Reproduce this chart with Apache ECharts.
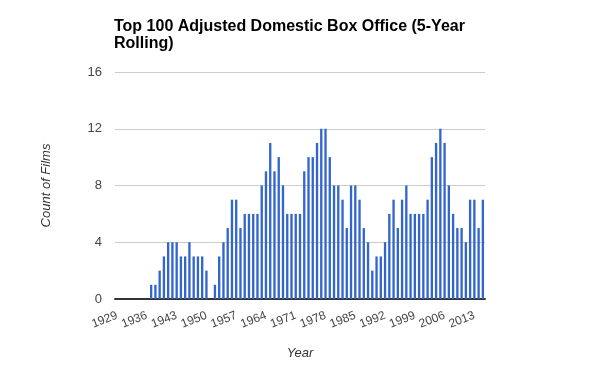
<!DOCTYPE html>
<html><head><meta charset="utf-8">
<script src="https://cdn.jsdelivr.net/npm/echarts@6/dist/echarts.min.js"></script>
<style>html,body{margin:0;padding:0;background:#fff}#c{width:600px;height:371px}</style>
</head><body><div id="c"></div>
<script>
const titleText = 'Top 100 Adjusted Domestic Box Office (5-Year\nRolling)';
const years = [];
for (let y = 1929; y <= 2015; y++) years.push(String(y));
const counts = [
  0,0,0,0,0,0,0,0,
  1,1,2,3,4,4,4,3,3,4,3,3,3,2,0,1,3,4,5,7,7,5,6,6,6,6,
  8,9,11,9,10,8,6,6,6,6,9,10,10,11,12,12,10,8,8,7,5,8,8,7,
  5,4,2,3,3,4,6,7,5,7,8,6,6,6,6,7,10,11,12,11,8,6,5,5,4,7,7,5,7
];
const yTicks = [0, 4, 8, 12, 16];
const chart = echarts.init(document.getElementById('c'));
chart.setOption({
  animation: false,
  title: {
    text: titleText, left: 109, top: 13,
    textStyle: { fontFamily: 'Liberation Sans', fontSize: 16, fontWeight: 'bold', color: '#000', lineHeight: 17 }
  },
  grid: { left: 115, right: 115, top: 72, bottom: 72 },
  xAxis: {
    type: 'category', data: years,
    name: 'Year', nameLocation: 'middle', nameGap: 48,
    nameTextStyle: { fontFamily: 'Liberation Sans', fontStyle: 'italic', fontSize: 13, color: '#333' },
    axisLine: { lineStyle: { color: '#333', width: 2 } },
    axisTick: { show: false },
    axisLabel: { interval: 6, rotate: 21, margin: 16, fontFamily: 'Liberation Sans', fontSize: 12, color: '#444' }
  },
  yAxis: {
    type: 'value', min: yTicks[0], max: yTicks[yTicks.length - 1], interval: 4,
    name: 'Count of Films', nameLocation: 'middle', nameGap: 62,
    nameTextStyle: { fontFamily: 'Liberation Sans', fontStyle: 'italic', fontSize: 13, color: '#333' },
    axisLine: { show: false }, axisTick: { show: false },
    axisLabel: { margin: 13, fontFamily: 'Liberation Sans', fontSize: 13, color: '#444' },
    splitLine: { lineStyle: { color: '#ccc', width: 1 } }
  },
  series: [{
    type: 'bar', data: counts, barWidth: '55%',
    itemStyle: { color: '#3366cc' }
  }]
});
</script></body></html>
